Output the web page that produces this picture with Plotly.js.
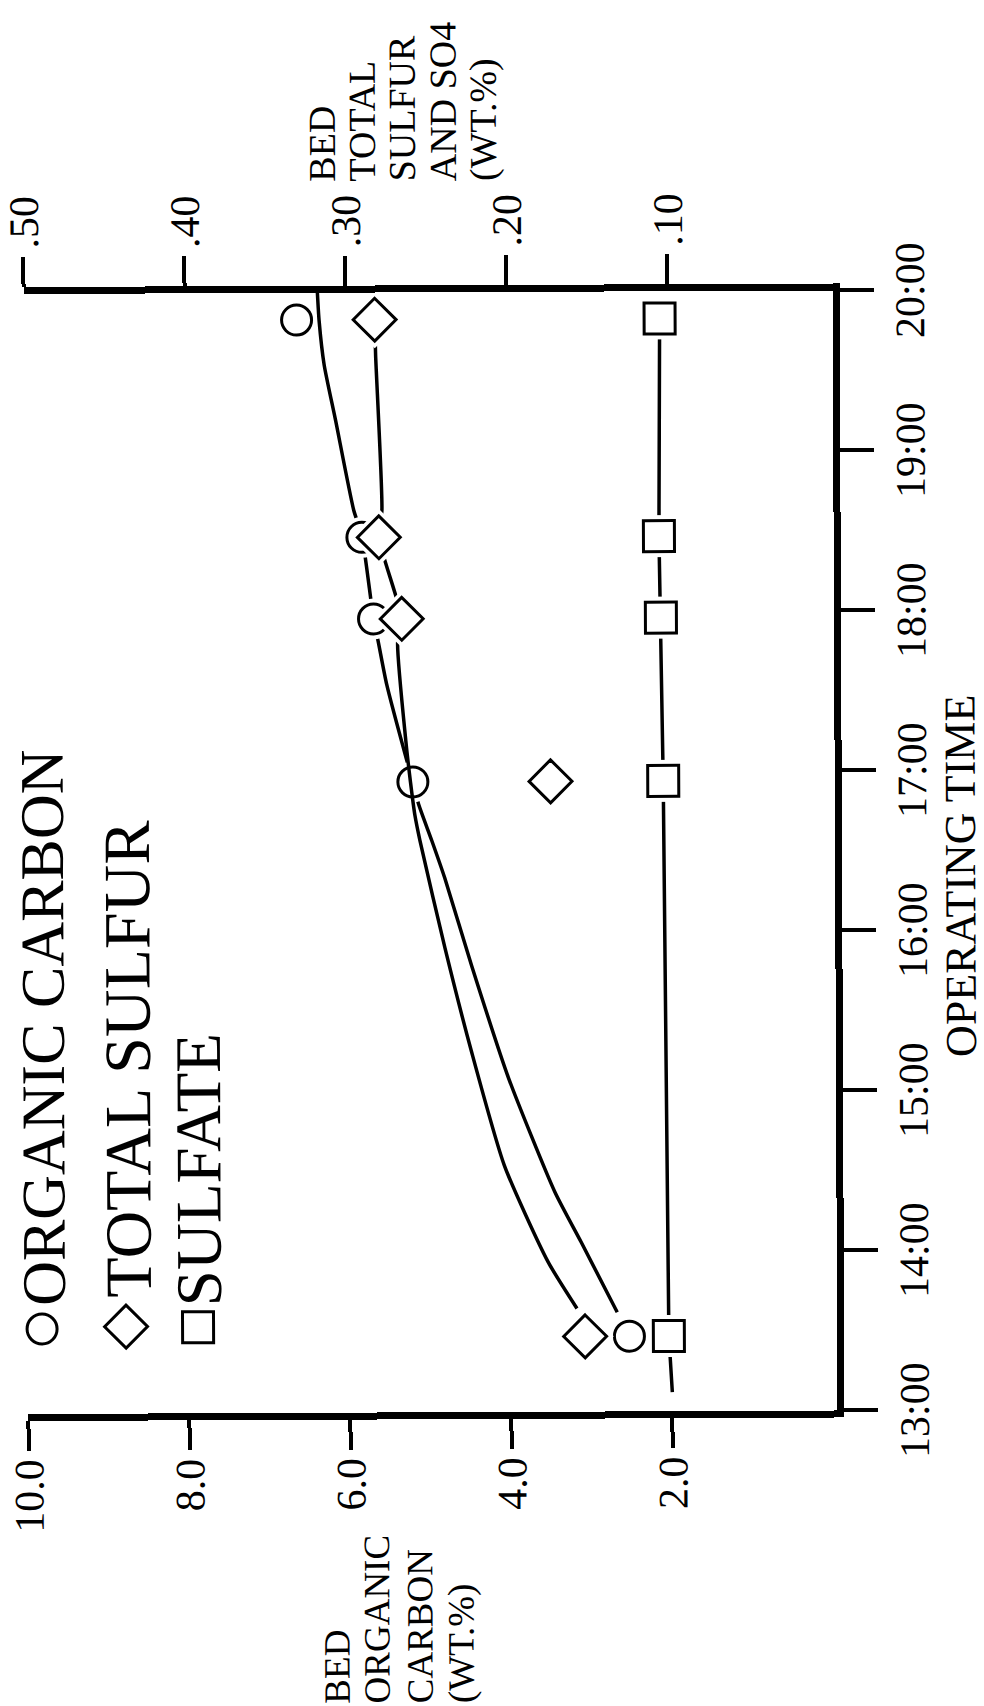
<!DOCTYPE html>
<html><head><meta charset="utf-8">
<script src="https://cdn.plot.ly/plotly-3.0.1.min.js"></script>
<style>
html,body{margin:0;padding:0;background:#fff;overflow:hidden;width:984px;height:1706px;}
#wrap{position:absolute;left:0;top:0;width:1706px;height:984px;transform-origin:0 0;
  transform:translate(492px,853px) rotate(-0.25deg) translate(-492px,-853px) translate(0px,1706px) rotate(-90deg);}
#chart{width:1706px;height:984px;}
</style></head><body><div id="wrap"><div id="chart"></div></div>
<script>
// ---- data (hours of operating time, wt.%) ----
const sampleHours   = [13.47, 16.94, 17.96, 18.47, 19.83];
const organicCarbon = [2.53, 5.19, 5.67, 5.81, 6.61];
const totalSulfur   = [0.154, 0.174, 0.266, 0.280, 0.282];
const sulfate       = [0.102, 0.104, 0.105, 0.106, 0.105];

const carbonCurveHours = [13.62, 14.06, 14.375, 15.09, 15.79, 16.34, 16.575, 16.80, 16.94, 17.085, 17.55, 17.81, 17.96, 18.48, 18.64, 19.2, 19.55, 19.825, 20.0];
const carbonCurve      = [2.68, 3.125, 3.45, 4.02, 4.47, 4.80, 4.96, 5.12, 5.19, 5.27, 5.51, 5.61, 5.67, 5.81, 5.91, 6.13, 6.27, 6.33, 6.35];
const sulfurCurveHours = [13.645, 13.94, 14.54, 15.26, 15.9, 16.575, 16.73, 16.94, 17.2, 17.81, 17.96, 18.47, 18.64, 19.61, 19.83];
const sulfurCurve      = [0.159, 0.177, 0.2037, 0.224, 0.240, 0.2553, 0.2583, 0.261, 0.2638, 0.2686, 0.266, 0.280, 0.278, 0.2815, 0.282];
const sulfateLineHours = [13.12, 13.47, 16.94, 17.96, 18.47, 19.83];
const sulfateLine      = [0.100, 0.102, 0.104, 0.105, 0.106, 0.105];

const timeTickVals = [13, 14, 15, 16, 17, 18, 19, 20];
const timeTickText = ["13:00", "14:00", "15:00", "16:00", "17:00", "18:00", "19:00", "20:00"];
const carbonTickVals = [2, 4, 6, 8, 10];
const carbonTickText = ["2.0", "4.0", "6.0", "8.0", "10.0"];
const sulfurTickVals = [0.1, 0.2, 0.3, 0.4, 0.5];
const sulfurTickText = [".10", ".20", ".30", ".40", ".50"];

const seriesNames = ["ORGANIC CARBON", "TOTAL SULFUR", "SULFATE"];
const seriesSymbols = ["circle", "diamond", "square"];
const leftTitle = ["BED", "ORGANIC", "CARBON", "(WT.%)"];
const rightTitle = ["BED", "TOTAL", "SULFUR", "AND SO4", "(WT.%)"];
const xTitle = "OPERATING TIME";

// ---- layout (pixels in the unrotated frame) ----
const W = 1706, H = 984;
const M = {l: 294, r: 292, t: 26, b: 149};
const FONT = "Liberation Serif, Times New Roman, serif";
const INK = "#000";
const sizes = {circle: 30, diamond: 33, square: 31};
const HALO = 11;
const legendPos = {x: [379, 381, 380], y: [40, 124, 196], tx: [400, 408, 399], ty: [42, 126, 197], fs: [62, 66, 65]};
const leftTitlePos = {x: 1, y: [333, 374, 416, 458]};
const rightTitlePos = {x: 1523, y: [325, 365, 405, 446, 487]};

const pw = W - M.l - M.r, ph = H - M.t - M.b;
const px = x => (x - M.l) / pw;
const py = y => (H - M.b - y) / ph;

function lineTrace(x, y, yaxis) {
  return {x, y, yaxis, type: "scatter", mode: "lines", hoverinfo: "skip", cliponaxis: false,
    line: {color: INK, width: 3.5, shape: "spline", smoothing: 0.6}};
}
function haloTrace(x, y, yaxis, sym) {
  return {x, y, yaxis, type: "scatter", mode: "markers", hoverinfo: "skip", cliponaxis: false,
    marker: {symbol: sym, size: sizes[sym] + HALO, color: "#fff", line: {width: 0}}};
}
function markerTrace(x, y, yaxis, sym, name) {
  return {x, y, yaxis, name, type: "scatter", mode: "markers", cliponaxis: false,
    marker: {symbol: sym, size: sizes[sym], color: "rgba(0,0,0,0)", line: {color: INK, width: 3}}};
}

const traces = [
  lineTrace(carbonCurveHours, carbonCurve, "y"),
  lineTrace(sulfurCurveHours, sulfurCurve, "y2"),
  Object.assign(lineTrace(sulfateLineHours, sulfateLine, "y2"), {line: {color: INK, width: 3.5}}),
  haloTrace(sampleHours, organicCarbon, "y", "circle"),
  haloTrace(sampleHours, totalSulfur, "y2", "diamond"),
  haloTrace(sampleHours, sulfate, "y2", "square"),
  markerTrace(sampleHours, organicCarbon, "y", "circle", seriesNames[0]),
  markerTrace(sampleHours, totalSulfur, "y2", "diamond", seriesNames[1]),
  markerTrace(sampleHours, sulfate, "y2", "square", seriesNames[2])
];
seriesSymbols.forEach((sym, i) => traces.push({
  x: [legendPos.x[i]], y: [legendPos.y[i]], xaxis: "x2", yaxis: "y3", type: "scatter", mode: "markers",
  cliponaxis: false, name: seriesNames[i],
  marker: {symbol: sym, size: sizes[sym], color: "rgba(0,0,0,0)", line: {color: INK, width: 3}}}));

const axisCommon = {showline: true, linecolor: INK, linewidth: 7, ticks: "outside", tickcolor: INK,
  tickwidth: 4, showgrid: false, zeroline: false, automargin: false,
  tickfont: {family: FONT, size: 42, color: INK}};

const annotations = [];
leftTitle.forEach((t, i) => annotations.push({text: t, xref: "paper", yref: "paper", x: px(leftTitlePos.x), y: py(leftTitlePos.y[i]),
  xanchor: "left", yanchor: "middle", showarrow: false, font: {family: FONT, size: 37, color: INK}}));
rightTitle.forEach((t, i) => annotations.push({text: t, xref: "paper", yref: "paper", x: px(rightTitlePos.x), y: py(rightTitlePos.y[i]),
  xanchor: "left", yanchor: "middle", showarrow: false, font: {family: FONT, size: 38, color: INK}}));
annotations.push({text: xTitle, xref: "paper", yref: "paper", x: px(828), y: py(960), xanchor: "center", yanchor: "middle",
  showarrow: false, font: {family: FONT, size: 44, color: INK}});
seriesNames.forEach((t, i) => annotations.push({text: t, xref: "paper", yref: "paper", x: px(legendPos.tx[i]), y: py(legendPos.ty[i]),
  xanchor: "left", yanchor: "middle", showarrow: false, font: {family: FONT, size: legendPos.fs[i], color: INK}}));

const layout = {
  width: W, height: H, margin: {l: M.l, r: M.r, t: M.t, b: M.b, pad: 0},
  paper_bgcolor: "#fff", plot_bgcolor: "rgba(0,0,0,0)", showlegend: false,
  font: {family: FONT, color: INK},
  xaxis: Object.assign({}, axisCommon, {range: [13, 20], tickmode: "array", tickvals: timeTickVals, ticktext: timeTickText, ticklen: 34}),
  yaxis: Object.assign({}, axisCommon, {range: [-0.05, 10], tickmode: "array", tickvals: carbonTickVals, ticktext: carbonTickText, ticklen: 30}),
  yaxis2: Object.assign({}, axisCommon, {overlaying: "y", side: "right", range: [-0.0025, 0.5], tickmode: "array",
    tickvals: sulfurTickVals, ticktext: sulfurTickText, ticklen: 30}),
  xaxis2: {overlaying: "x", visible: false, range: [M.l, W - M.r]},
  yaxis3: {overlaying: "y", visible: false, range: [H - M.b, M.t]},
  annotations
};

Plotly.newPlot("chart", traces, layout, {staticPlot: true, displayModeBar: false});
</script></body></html>
